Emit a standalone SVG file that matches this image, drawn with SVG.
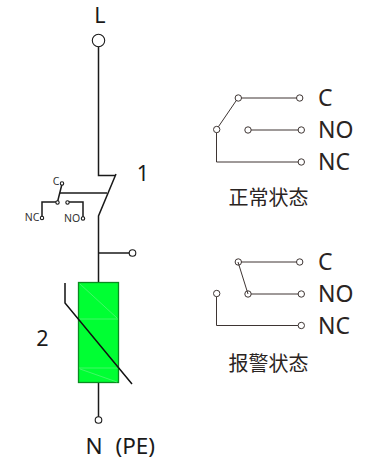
<svg xmlns="http://www.w3.org/2000/svg" width="378" height="462" viewBox="0 0 378 462">
<style>
text{font-family:"Noto Sans","Open Sans","Noto Sans CJK SC",sans-serif;fill:#1a1a1a}
.k{fill:none;stroke:#1a1a1a;stroke-width:1.5}
.o{fill:#fff;stroke:#1a1a1a;stroke-width:1.100}
.r{fill:none;stroke:#3e3533;stroke-width:1}
.c{fill:#fff;stroke:#3e3533;stroke-width:1}
.big{font-size:21.500px}
.np{font-size:22.500px}
.lab{font-size:23px;fill:#2a2422}
.cap{font-size:20px;fill:#2a2422;font-family:"Noto Sans CJK SC",sans-serif}
.sm{font-size:10.500px;fill:#333}
</style>
<g id="connectors">
<path class="k" d="M98.500 45V175.500H115"/>
<path class="k" d="M116 174L98.500 216V282"/>
<path class="k" d="M107 193H60"/>
<path class="k" d="M62 184L57.500 202H42V218"/>
<path class="k" d="M68 202H83V218"/>
<path class="k" d="M98.500 253H130"/>
<path class="k" d="M98.500 383V418"/>
</g>
<g id="node-L">
<text class="big" x="100" y="23" text-anchor="middle">L</text>
<circle cx="98.500" cy="40.500" r="6.200" class="o"/>
</g>
<g id="node-1">
<text class="big" x="143" y="181" text-anchor="middle">1</text>
</g>
<g id="node-aux">
<text class="sm" x="56" y="185" text-anchor="middle">C</text>
<text class="sm" x="32" y="221" text-anchor="middle">NC</text>
<text class="sm" x="72" y="222" text-anchor="middle">NO</text>
<circle cx="62" cy="183.500" r="1.700" class="o"/>
<circle cx="57.500" cy="202.500" r="1.700" class="o"/>
<circle cx="67.500" cy="202.500" r="1.700" class="o"/>
<circle cx="42" cy="218" r="1.700" class="o"/>
<circle cx="83" cy="218.500" r="1.700" class="o"/>
</g>
<g id="node-tap">
<circle cx="132.500" cy="253" r="3.300" class="o"/>
</g>
<g id="node-2">
<rect x="78.500" y="282.500" width="40" height="100" fill="#00ff33" stroke="#0a8a20" stroke-width="1.300"/>
<path d="M80 284L117 318M79 319H118M79 368H118M80 369L117 382" fill="none" stroke="#5cf57c" stroke-width=".7"/>
<path d="M65 283V303L132 384" fill="none" stroke="#111" stroke-width="1.500"/>
<text class="big" x="42.500" y="346" text-anchor="middle">2</text>
</g>
<g id="node-N">
<circle cx="98.500" cy="420" r="3.300" class="o"/>
<text class="np" x="85.500" y="453.500">N</text>
<text class="np" x="115.500" y="453.500">(PE)</text>
</g>
<g id="state-normal">
<path class="r" d="M238 98H300M216.500 129.500L238 98M248 130H301M216.500 129.500V162H301"/>
<circle cx="238.300" cy="98" r="3.200" class="c"/><circle cx="299.700" cy="98" r="3.200" class="c"/>
<circle cx="216.700" cy="129.500" r="3.200" class="c"/><circle cx="248" cy="130" r="3.200" class="c"/><circle cx="301.300" cy="130" r="3.200" class="c"/>
<circle cx="301.300" cy="162" r="3.200" class="c"/>
<text class="lab" x="318" y="105.500">C</text>
<text class="lab" x="318" y="138">NO</text>
<text class="lab" x="318" y="170">NC</text>
<text class="cap" x="268.500" y="204.500" text-anchor="middle">正常状态</text>
</g>
<g id="state-alarm">
<path class="r" d="M238 262H300M248 294H301M216.500 293.500V325.500H301"/>
<circle cx="238.300" cy="262" r="3.200" class="c"/><circle cx="299.700" cy="262" r="3.200" class="c"/>
<circle cx="216.700" cy="293.500" r="3.200" class="c"/><circle cx="248" cy="294" r="3.200" class="c"/><circle cx="301.300" cy="294" r="3.200" class="c"/>
<circle cx="301.300" cy="325.500" r="3.200" class="c"/>
<path class="r" d="M238 262L248 294"/>
<text class="lab" x="318" y="269.500">C</text>
<text class="lab" x="318" y="302">NO</text>
<text class="lab" x="318" y="334">NC</text>
<text class="cap" x="268.500" y="371" text-anchor="middle">报警状态</text>
</g>
</svg>
